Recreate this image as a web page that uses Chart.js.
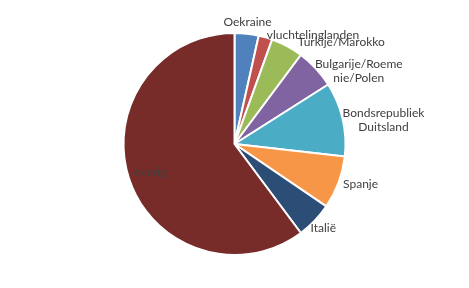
<!DOCTYPE html>
<html>
<head>
<meta charset="utf-8">
<script src="https://cdn.jsdelivr.net/npm/chart.js"></script>
<style>
  html, body { margin: 0; padding: 0; background: #fff; }
  #wrap { width: 469px; height: 288px; }
</style>
</head>
<body>
<div id="wrap"><canvas id="pie" width="469" height="288"></canvas></div>
<script>
// ---- data (% share) ----
const labels = ["Oekraine", "vluchtelinglanden", "Turkije/Marokko", "Bulgarije/Roemenie/Polen",
                "Bondsrepubliek Duitsland", "Spanje", "Italië", "overig"];
const labelLines = [["Oekraine"], ["vluchtelinglanden"], ["Turkije/Marokko"], ["Bulgarije/Roeme", "nie/Polen"],
                    ["Bondsrepubliek", "Duitsland"], ["Spanje"], ["Italië"], ["overig"]];
const values = [3.5, 2.0, 4.7, 5.8, 10.8, 7.7, 5.3, 60.2];
const colors = ["#4F81BD", "#C0504D", "#9BBB59", "#8064A2", "#4BACC6", "#F79646", "#2C4D75", "#772C2A"];

// label placement relative to each slice's mid-angle point (Excel-ish)
const labelLayout = [
  { r: 8,   align: "center", dx: 0,  dy: -4 },
  { r: 8,   align: "left",   dx: -1, dy: 5 },
  { r: 8,   align: "left",   dx: 7,  dy: 3 },
  { r: 8,   align: "center", dx: 37, dy: 8 },
  { r: 8,   align: "center", dx: 33, dy: 3 },
  { r: 8,   align: "left",   dx: -3, dy: -1 },
  { r: 8,   align: "left",   dx: -10, dy: 2 },
  { r: -22, align: "center", dx: 0,  dy: 0 },
];

const sliceLabels = {
  id: "sliceLabels",
  afterDatasetsDraw(chart) {
    const ctx = chart.ctx;
    const meta = chart.getDatasetMeta(0);
    ctx.save();
    ctx.font = "12px Lato, 'Open Sans', sans-serif";
    ctx.fillStyle = "#404040";
    ctx.textBaseline = "middle";
    meta.data.forEach((arc, i) => {
      const p = arc.getProps(["x", "y", "startAngle", "endAngle", "outerRadius"], true);
      const mid = (p.startAngle + p.endAngle) / 2;
      const L = labelLayout[i];
      const rr = p.outerRadius + L.r;
      const x = p.x + Math.cos(mid) * rr + L.dx;
      const y = p.y + Math.sin(mid) * rr + L.dy;
      const lines = labelLines[i];
      const lh = 14;
      lines.forEach((t, k) => {
        const yy = y + (k - (lines.length - 1) / 2) * lh;
        ctx.textAlign = L.align;
        ctx.fillText(t, x, yy);
      });
    });
    ctx.restore();
  }
};

new Chart(document.getElementById("pie"), {
  type: "pie",
  data: {
    labels: labels,
    datasets: [{ data: values, backgroundColor: colors, borderColor: "#fff", borderWidth: 2 }]
  },
  options: {
    responsive: false,
    animation: false,
    layout: { padding: { top: 32, bottom: 32 } },
    plugins: { legend: { display: false }, tooltip: { enabled: false } }
  },
  plugins: [sliceLabels]
});
</script>
</body>
</html>
